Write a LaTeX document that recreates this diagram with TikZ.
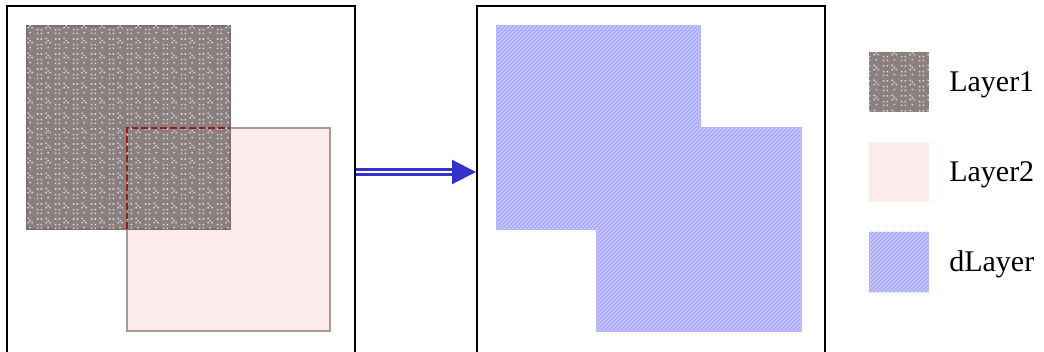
\documentclass[tikz,border=0pt]{standalone}
\usepackage{fontspec}
\setmainfont{Liberation Serif}
\usetikzlibrary{patterns,arrows.meta,fit}

% dotted texture of the first layer
\pgfdeclarepatternformonly{layerdots}{\pgfqpoint{0pt}{0pt}}{\pgfqpoint{13.5pt}{11.5pt}}{\pgfqpoint{13.5pt}{11.5pt}}{%
  \pgfpathrectangle{\pgfqpoint{0.6pt}{0.6pt}}{\pgfqpoint{1.2pt}{1.2pt}}%
  \pgfpathrectangle{\pgfqpoint{3.6pt}{0.6pt}}{\pgfqpoint{1.2pt}{1.2pt}}%
  \pgfpathrectangle{\pgfqpoint{0.6pt}{3.6pt}}{\pgfqpoint{1.2pt}{1.2pt}}%
  \pgfpathrectangle{\pgfqpoint{3.6pt}{3.6pt}}{\pgfqpoint{1.2pt}{1.2pt}}%
  \pgfpathrectangle{\pgfqpoint{7.4pt}{8.4pt}}{\pgfqpoint{1.2pt}{1.2pt}}%
  \pgfpathrectangle{\pgfqpoint{9.0pt}{6.8pt}}{\pgfqpoint{1.2pt}{1.2pt}}%
  \pgfpathrectangle{\pgfqpoint{10.6pt}{5.2pt}}{\pgfqpoint{1.2pt}{1.2pt}}%
  \pgfpathrectangle{\pgfqpoint{7.4pt}{5.2pt}}{\pgfqpoint{1.2pt}{1.2pt}}%
  \pgfpathrectangle{\pgfqpoint{0.6pt}{8.0pt}}{\pgfqpoint{1.2pt}{1.2pt}}%
  \pgfpathrectangle{\pgfqpoint{3.6pt}{8.0pt}}{\pgfqpoint{1.2pt}{1.2pt}}%
  \pgfpathrectangle{\pgfqpoint{9.0pt}{1.2pt}}{\pgfqpoint{1.2pt}{1.2pt}}%
  \pgfusepath{fill}}

% diagonal weave of the derived layer
\pgfdeclarepatternformonly{weave}{\pgfqpoint{0pt}{0pt}}{\pgfqpoint{3.2pt}{3.2pt}}{\pgfqpoint{3.2pt}{3.2pt}}{%
  \pgfsetlinewidth{0.9pt}%
  \pgfpathmoveto{\pgfqpoint{-0.5pt}{-0.5pt}}%
  \pgfpathlineto{\pgfqpoint{3.7pt}{3.7pt}}%
  \pgfusepath{stroke}}

\definecolor{layeronefill}{HTML}{8B8080}
\definecolor{layeronedot}{HTML}{DCD6D6}
\definecolor{layeroneedge}{HTML}{7A7070}
\definecolor{layertwofill}{HTML}{FDEAEA}
\definecolor{layertwoedge}{HTML}{A89A9A}
\definecolor{dlayerfill}{HTML}{AAAAFF}
\definecolor{dlayerlight}{HTML}{D2D2FF}
\definecolor{dlayeredge}{HTML}{B4B4FF}
\definecolor{overlapred}{HTML}{A01818}
\definecolor{arrowblue}{HTML}{3333CC}

\tikzset{
  frame/.style={draw=black, line width=1.5pt, inner sep=0pt},
  layerone/.style={fill=layeronefill, draw=layeroneedge, line width=0.9pt,
    postaction={pattern=layerdots, pattern color=layeronedot}},
  layertwo/.style={fill=layertwofill, draw=layertwoedge, line width=0.9pt},
  dlayer/.style={fill=dlayerfill, draw=dlayeredge, line width=0.9pt,
    postaction={pattern=weave, pattern color=dlayerlight}},
  swatch/.style={minimum size=45pt, inner sep=0pt},
  legendtext/.style={anchor=base west, font=\fontsize{22.5}{27}\selectfont, inner sep=0pt},
  overlap/.style={draw=overlapred, line width=1.4pt, dash pattern=on 5pt off 2.2pt},
  transform/.style={arrowblue, line width=1.6pt, double=white, double distance=2.2pt,
    -{Triangle[length=18pt,width=18pt]}}
}

\begin{document}
\begin{tikzpicture}[x=0.75pt,y=-0.75pt]
\useasboundingbox (0,0) rectangle (1044,352);
\clip (0,0) rectangle (1044,352);

% input and output panels (they run past the lower edge)
\node[frame, fit={(7,6) (355,420)}] (srcframe) {};
\node[frame, fit={(477,6) (825,420)}] (dstframe) {};

% input layers
\draw[layertwo] (127,128) rectangle (330,331);
\draw[layerone] (27,26) rectangle (230,229);
\draw[overlap] (127,229) -- (127,128) -- (230,128);

% derived layer: union of both squares
\draw[dlayer] (497,26) -- (700,26) -- (700,128) -- (801,128) -- (801,331)
  -- (597,331) -- (597,229) -- (497,229) -- cycle;

% operation arrow
\coordinate (arrowrow) at (0,172);
\draw[transform] (srcframe.east |- arrowrow) -- (dstframe.west |- arrowrow);

% legend
\node[swatch, layerone, draw=none] (keyone) at (899,82) {};
\node[swatch, layertwo, draw=none] (keytwo) at (899,172) {};
\node[swatch, dlayer, draw=none] (keyd) at (899,262) {};
\node[legendtext] (labone) at (949,92) {Layer1};
\node[legendtext] (labtwo) at (949,182) {Layer2};
\node[legendtext] (labd) at (949,272) {dLayer};
\end{tikzpicture}
\end{document}
